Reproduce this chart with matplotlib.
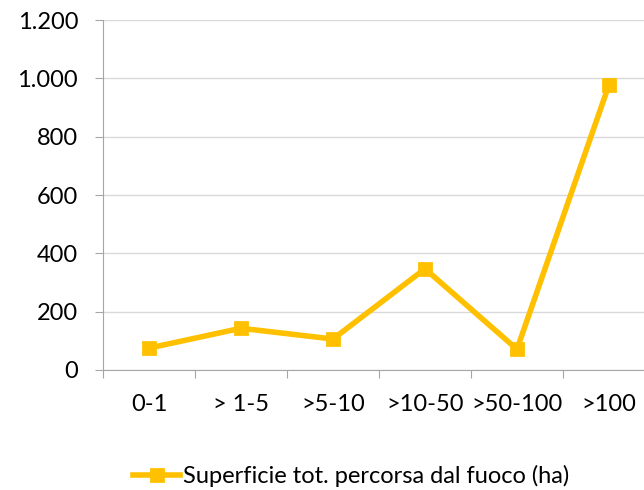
import matplotlib
matplotlib.use('agg')
import matplotlib.pyplot as plt
from matplotlib.ticker import FuncFormatter

categories = ['0-1', '> 1-5', '>5-10', '>10-50', '>50-100', '>100']
values = [75, 143, 106, 347, 71, 978]
series_name = 'Superficie tot. percorsa dal fuoco (ha)'

plt.rcParams['font.family'] = ['Lato', 'DejaVu Sans']

fig = plt.figure(figsize=(6.44, 4.9), dpi=100)
ax = fig.add_axes([0.16, 0.245, 0.857, 0.714])

x = list(range(len(categories)))
ax.plot(x, values, color='#FFC000', linewidth=4, marker='s', markersize=8,
        markerfacecolor='#FFC000', markeredgecolor='#FFC000', markeredgewidth=2,
        solid_joinstyle='round', label=series_name)

ax.set_xlim(-0.5, len(categories) - 0.5)
ax.set_ylim(0, 1200)
ax.set_yticks(range(0, 1201, 200))
ax.yaxis.set_major_formatter(FuncFormatter(lambda v, p: '{:,.0f}'.format(v).replace(',', '.')))

# category boundaries as major ticks, labels on minor ticks
ax.set_xticks([i - 0.5 for i in range(len(categories) + 1)])
ax.set_xticklabels([])
ax.set_xticks(x, minor=True)
ax.set_xticklabels(categories, minor=True)
ax.tick_params(axis='x', which='major', length=6, color='#A6A6A6')
ax.tick_params(axis='x', which='minor', length=0, pad=17, labelsize=17)
ax.tick_params(axis='y', length=6, color='#A6A6A6', pad=12, labelsize=17)

ax.grid(axis='y', color='#D9D9D9', linewidth=1)
ax.set_axisbelow(True)
for s in ['top', 'right']:
    ax.spines[s].set_visible(False)
for s in ['left', 'bottom']:
    ax.spines[s].set_color('#A6A6A6')

fig.legend(loc='center', bbox_to_anchor=(0.545, 0.029), frameon=False,
           fontsize=17, handlelength=2.0, handletextpad=0.1)

plt.savefig('out.png')
